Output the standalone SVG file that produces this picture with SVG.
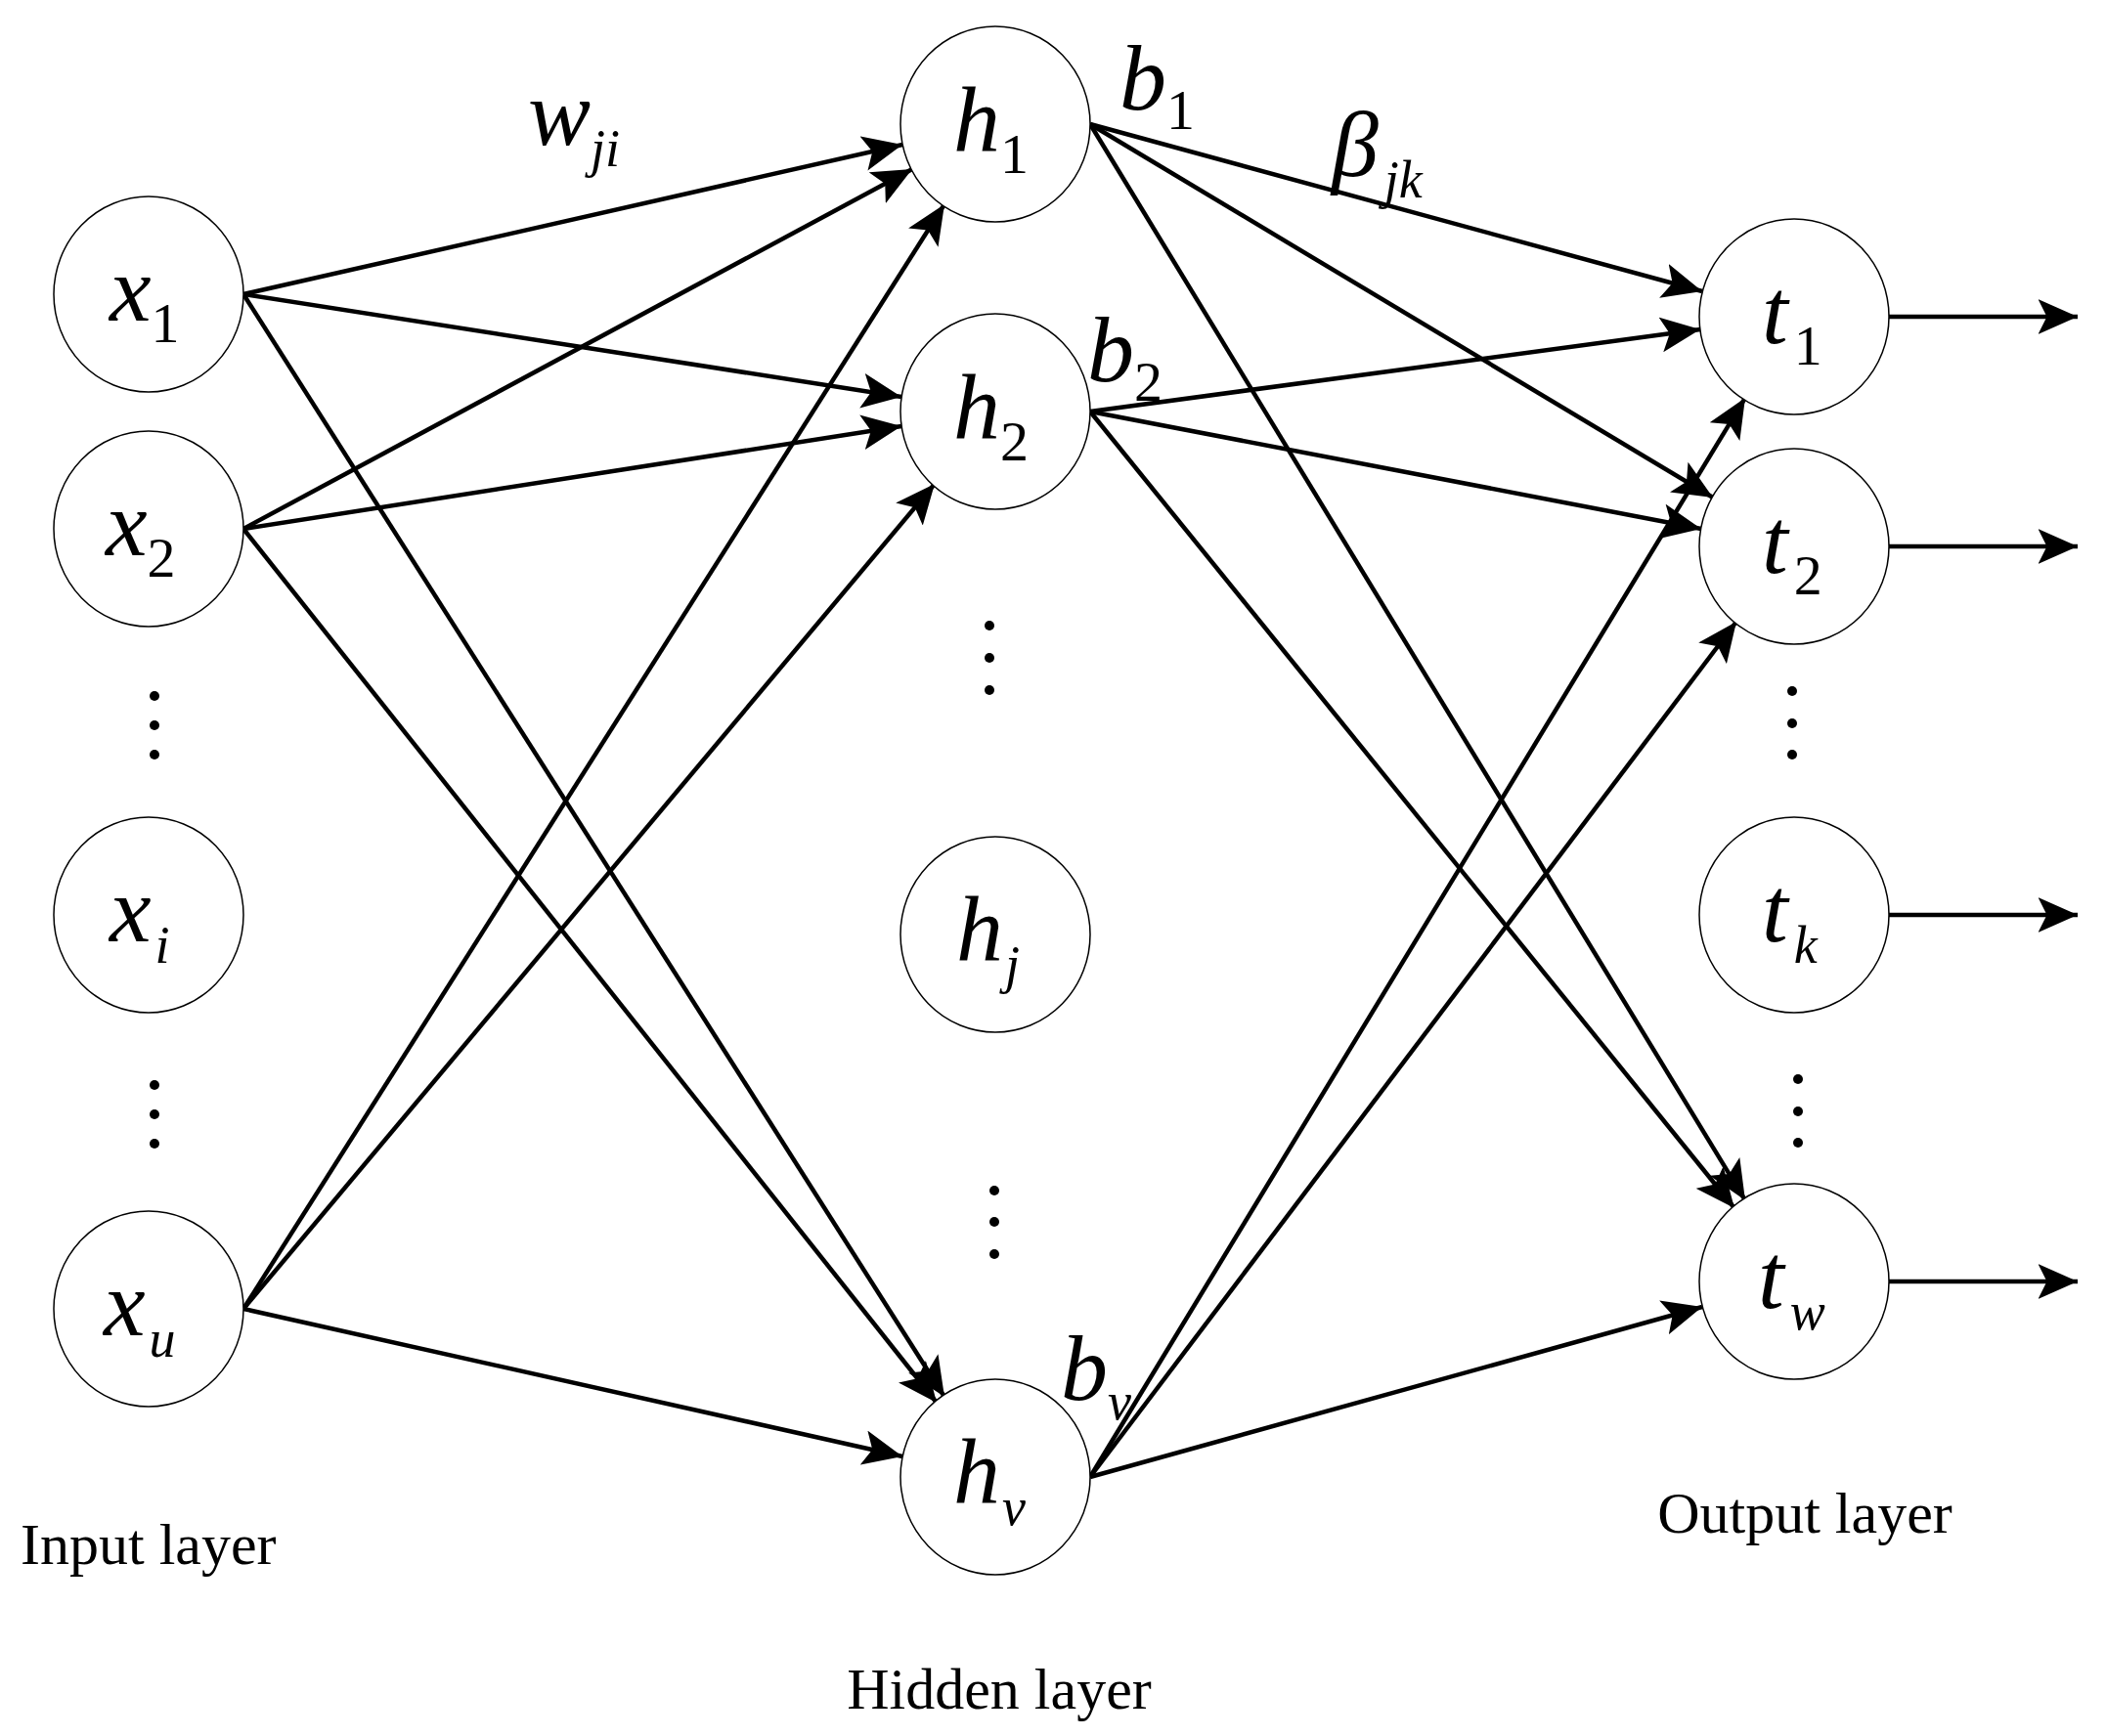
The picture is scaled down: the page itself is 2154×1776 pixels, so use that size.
<svg xmlns="http://www.w3.org/2000/svg" width="2154" height="1776" viewBox="0 0 2154 1776">
<defs>
<marker id="ah" markerWidth="9" markerHeight="8" refX="9" refY="4" orient="auto" markerUnits="strokeWidth"><path d="M0,0 L9,4 L0,8 L2,4 Z" fill="#000"/></marker>
<style>
.n{fill:#fff;stroke:#000;stroke-width:1.5}
.t{font-family:"Liberation Serif","DejaVu Serif",serif;fill:#000}
.m{font-style:italic;font-size:96px}
.s{font-size:58px}
.si{font-size:54px;font-style:italic}
.lab{font-size:60px}
.e{stroke:#000;stroke-width:4.5;fill:none;marker-end:url(#ah)}
.d{fill:#000}
</style>
</defs>
<rect width="2154" height="1776" fill="#fff"/>
<g id="connectors">
<line class="e" x1="249" y1="301" x2="923" y2="148"/>
<line class="e" x1="249" y1="301" x2="922" y2="406"/>
<line class="e" x1="249" y1="301" x2="966" y2="1429"/>
<line class="e" x1="249" y1="541" x2="933" y2="173"/>
<line class="e" x1="249" y1="541" x2="922" y2="436"/>
<line class="e" x1="249" y1="541" x2="958" y2="1435"/>
<line class="e" x1="249" y1="1339" x2="966" y2="209"/>
<line class="e" x1="249" y1="1339" x2="956" y2="495"/>
<line class="e" x1="249" y1="1339" x2="923" y2="1490"/>
<line class="e" x1="1115" y1="127" x2="1741" y2="298"/>
<line class="e" x1="1115" y1="127" x2="1752" y2="509"/>
<line class="e" x1="1115" y1="127" x2="1785" y2="1228"/>
<line class="e" x1="1115" y1="421" x2="1739" y2="337"/>
<line class="e" x1="1115" y1="421" x2="1740" y2="541"/>
<line class="e" x1="1115" y1="421" x2="1774" y2="1236"/>
<line class="e" x1="1115" y1="1511" x2="1785" y2="407"/>
<line class="e" x1="1115" y1="1511" x2="1776" y2="636"/>
<line class="e" x1="1115" y1="1511" x2="1741" y2="1337"/>
<line class="e" x1="1932" y1="324" x2="2125" y2="324"/>
<line class="e" x1="1932" y1="559" x2="2125" y2="559"/>
<line class="e" x1="1932" y1="936" x2="2125" y2="936"/>
<line class="e" x1="1932" y1="1311" x2="2125" y2="1311"/>
</g>
<g id="x1"><ellipse class="n" cx="152" cy="301" rx="97" ry="100"/><text class="t" x="112" y="328"><tspan class="m">x</tspan><tspan class="s" dy="22">1</tspan></text></g>
<g id="x2"><ellipse class="n" cx="152" cy="541" rx="97" ry="100"/><text class="t" x="108" y="568"><tspan class="m">x</tspan><tspan class="s" dy="22">2</tspan></text></g>
<g id="xi"><ellipse class="n" cx="152" cy="936" rx="97" ry="100"/><text class="t" x="112" y="963"><tspan class="m">x</tspan><tspan class="si" dx="4" dy="22">i</tspan></text></g>
<g id="xu"><ellipse class="n" cx="152" cy="1339" rx="97" ry="100"/><text class="t" x="106" y="1366"><tspan class="m">x</tspan><tspan class="si" dx="4" dy="22">u</tspan></text></g>
<g id="h1"><ellipse class="n" cx="1018" cy="127" rx="97" ry="100"/><text class="t" x="975" y="155"><tspan class="m">h</tspan><tspan class="s" dy="22">1</tspan></text></g>
<g id="h2"><ellipse class="n" cx="1018" cy="421" rx="97" ry="100"/><text class="t" x="975" y="449"><tspan class="m">h</tspan><tspan class="s" dy="22">2</tspan></text></g>
<g id="hj"><ellipse class="n" cx="1018" cy="956" rx="97" ry="100"/><text class="t" x="978" y="983"><tspan class="m">h</tspan><tspan class="si" dx="2" dy="22">j</tspan></text></g>
<g id="hv"><ellipse class="n" cx="1018" cy="1511" rx="97" ry="100"/><text class="t" x="975" y="1538"><tspan class="m">h</tspan><tspan class="si" dx="2" dy="22">v</tspan></text></g>
<g id="t1"><ellipse class="n" cx="1835" cy="324" rx="97" ry="100"/><text class="t" x="1802" y="351"><tspan class="m">t</tspan><tspan class="s" dx="6" dy="22">1</tspan></text></g>
<g id="t2"><ellipse class="n" cx="1835" cy="559" rx="97" ry="100"/><text class="t" x="1802" y="586"><tspan class="m">t</tspan><tspan class="s" dx="6" dy="22">2</tspan></text></g>
<g id="tk"><ellipse class="n" cx="1835" cy="936" rx="97" ry="100"/><text class="t" x="1802" y="963"><tspan class="m">t</tspan><tspan class="si" dx="6" dy="22">k</tspan></text></g>
<g id="tw"><ellipse class="n" cx="1835" cy="1311" rx="97" ry="100"/><text class="t" x="1798" y="1338"><tspan class="m">t</tspan><tspan class="si" dx="6" dy="22">w</tspan></text></g>
<g id="dots">
<circle class="d" cx="158" cy="712" r="5"/><circle class="d" cx="158" cy="742" r="5"/><circle class="d" cx="158" cy="772" r="5"/>
<circle class="d" cx="158" cy="1110" r="5"/><circle class="d" cx="158" cy="1140" r="5"/><circle class="d" cx="158" cy="1170" r="5"/>
<circle class="d" cx="1012" cy="640" r="5"/><circle class="d" cx="1012" cy="673" r="5"/><circle class="d" cx="1012" cy="706" r="5"/>
<circle class="d" cx="1017" cy="1218" r="5"/><circle class="d" cx="1017" cy="1250" r="5"/><circle class="d" cx="1017" cy="1283" r="5"/>
<circle class="d" cx="1833" cy="707" r="5"/><circle class="d" cx="1833" cy="740" r="5"/><circle class="d" cx="1833" cy="772" r="5"/>
<circle class="d" cx="1839" cy="1104" r="5"/><circle class="d" cx="1839" cy="1137" r="5"/><circle class="d" cx="1839" cy="1169" r="5"/>
</g>
<g id="labels">
<text class="t" x="540" y="148"><tspan class="m" font-size="74">w</tspan><tspan class="si" font-size="42" dy="22">ji</tspan></text>
<text class="t" x="1145" y="112"><tspan class="m" font-size="72">b</tspan><tspan class="s" font-size="46" dy="20">1</tspan></text>
<text class="t" x="1112" y="390"><tspan class="m" font-size="72">b</tspan><tspan class="s" font-size="46" dy="20">2</tspan></text>
<text class="t" x="1085" y="1432"><tspan class="m" font-size="72">b</tspan><tspan class="si" font-size="42" dy="20">v</tspan></text>
<text class="t" x="1362" y="180"><tspan class="m" font-size="76">β</tspan><tspan class="si" font-size="38" dx="6" dy="22">jk</tspan></text>
<text class="t lab" x="21" y="1600">Input layer</text>
<text class="t lab" x="1022" y="1748" text-anchor="middle">Hidden layer</text>
<text class="t lab" x="1846" y="1568" text-anchor="middle">Output layer</text>
</g>
</svg>
